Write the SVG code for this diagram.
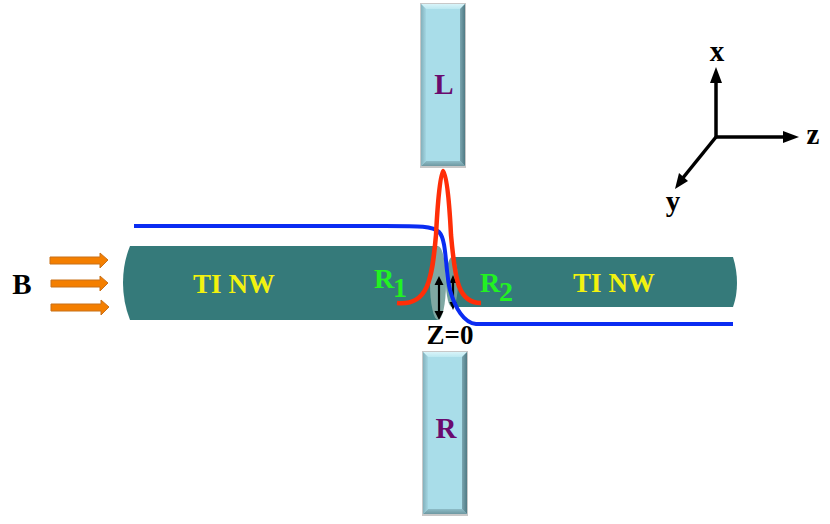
<svg xmlns="http://www.w3.org/2000/svg" width="830" height="524" viewBox="0 0 830 524">
<style>
text{font-family:"Liberation Serif","Times New Roman",serif;font-weight:bold}
.blk{fill:#000;font-size:27px}
.axl{fill:#000;font-size:29px}
.nw{fill:#f2f20f;font-size:27px}
.g{fill:#22f222;font-size:28px}
.el{fill:#6a0a6e;font-size:29px}
.ax{stroke:#000;stroke-width:3.500;fill:none}
.h{fill:#000}
.tw{stroke:#000;stroke-width:2.200;fill:none}
.or{fill:#f47f00;stroke:#c8701a;stroke-width:1;filter:url(#soft)}
.pad{fill:#a9dde9}
</style>
<defs>
<filter id="soft" x="-20%" y="-60%" width="140%" height="220%"><feGaussianBlur stdDeviation="0.4"/></filter>
<linearGradient id="top" x1="0" y1="0" x2="0" y2="1"><stop offset="0" stop-color="#d8f4f9"/><stop offset="1" stop-color="#bce8f1"/></linearGradient>
<linearGradient id="bot" x1="0" y1="0" x2="0" y2="1"><stop offset="0" stop-color="#8dbcc7"/><stop offset="1" stop-color="#6f98a1"/></linearGradient>
<linearGradient id="rgt" x1="0" y1="0" x2="1" y2="0"><stop offset="0" stop-color="#7ba6b0"/><stop offset="1" stop-color="#4f7a84"/></linearGradient>
<linearGradient id="lft" x1="0" y1="0" x2="1" y2="0"><stop offset="0" stop-color="#84b1bc"/><stop offset="1" stop-color="#a3d6e2"/></linearGradient>
<g id="padshape">
<rect x="-1" y="-1" width="46" height="165" fill="#777" opacity="0.4" filter="url(#soft)"/>
<rect width="44" height="162" class="pad"/>
<polygon points="0,0 44,0 39,5 5,5" fill="url(#top)"/>
<polygon points="0,162 44,162 39,157 5,157" fill="url(#bot)"/>
<polygon points="44,0 44,162 39,157 39,5" fill="url(#rgt)"/>
<polygon points="0,0 0,162 5,157 5,5" fill="url(#lft)"/>
</g>
</defs>

<g id="nanowire-left">
<path d="M130 246H438V320H130Q123 302 123 283Q123 263 130 246Z" fill="#357a7a"/>
<text x="234" y="293" class="nw" text-anchor="middle">TI NW</text>
</g>
<g id="nanowire-right">
<path d="M452 257H733Q737 270 737 283Q737 296 733 307H452Z" fill="#357a7a"/>
<text x="614" y="292" class="nw" text-anchor="middle">TI NW</text>
</g>
<g id="junction">
<ellipse cx="438" cy="283" rx="8" ry="37" fill="#7fa8a3"/>
<ellipse cx="452" cy="282" rx="6" ry="25" fill="#6f9f9c"/>
</g>

<g id="pad-L"><use href="#padshape" x="421" y="4"/><text x="444" y="94" class="el" text-anchor="middle">L</text></g>
<g id="pad-R"><use href="#padshape" x="423" y="352"/><text x="446" y="438" class="el" text-anchor="middle">R</text></g>

<g id="connectors">
<path d="M439 280V312M453 280V305" class="tw"/>
<path class="h" d="M439 276l-4.500 9h9zM439 320l-4.500-9h9zM453 275l-3.500 8h7zM453 310l-3.500-8h7z"/>
<path d="M134 226H385C420 226 433 226 439 232C447 240 445 270 450 290C455 308 464 323 476 324H733" fill="none" stroke="#0a2cf2" stroke-width="4"/>
<path d="M397 303C428 306 432 280 436 235C438 195 441 171 443 171C446 171 449 195 451 235C455 280 458 303 481 303" fill="none" stroke="#ff2e08" stroke-width="4.500"/>
<path d="M716 137V82" class="ax"/><path class="h" d="M716 67l-6 16h12z"/>
<path d="M716 137H786" class="ax"/><path class="h" d="M799 137l-16-6v12z"/>
<path d="M716 137L682 179" class="ax"/><path class="h" d="M675 189l4-16 9 8z"/>
</g>

<g id="field-arrows">
<path class="or" d="M50 257H100V253L108 260L100 268V264H50Z"/>
<path class="or" d="M51 280H100V276L108 283L100 291V287H51Z"/>
<path class="or" d="M51 304H101V300L109 307L101 315V311H51Z"/>
<text x="22" y="294" class="axl" text-anchor="middle">B</text>
</g>

<text x="374" y="288" class="g">R</text><text x="393" y="297" class="g">1</text>
<text x="480" y="292" class="g">R</text><text x="499" y="301" class="g">2</text>
<text x="450" y="344" class="blk" text-anchor="middle">Z=0</text>
<text x="717" y="61" class="axl" text-anchor="middle">x</text>
<text x="813" y="144" class="axl" text-anchor="middle">z</text>
<text x="673" y="211" class="axl" text-anchor="middle">y</text>
</svg>
